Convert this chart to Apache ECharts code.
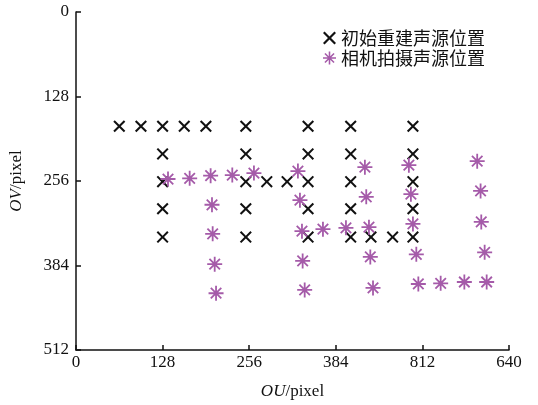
<!DOCTYPE html>
<html>
<head>
<meta charset="utf-8">
<script src="https://cdn.jsdelivr.net/npm/echarts@6/dist/echarts.min.js"></script>
<style>html,body{margin:0;padding:0;background:#fff;}#c{width:538px;height:405px;}</style>
</head>
<body>
<div id="c"></div>
<script>
// Data (pixel coordinates in the image plane)
const seriesNames = ['初始重建声源位置', '相机拍摄声源位置'];
const xTickValues = [0, 128, 256, 384, 512, 640];
const xTickLabels = ['0', '128', '256', '384', '812', '640'];
const yTickLabels = ['0', '128', '256', '384', '512'];

const initialU = [64, 96, 128, 160, 192, 251, 343, 406, 498,
                  128, 251, 343, 406, 498,
                  128, 251, 282, 312, 343, 406, 498,
                  128, 251, 343, 406, 498,
                  128, 251, 343, 406, 436, 468, 498];
const initialV = [173, 173, 173, 173, 173, 173, 173, 173, 173,
                  215, 215, 215, 215, 215,
                  257, 257, 257, 257, 257, 257, 257,
                  298, 298, 298, 298, 298,
                  341, 341, 341, 341, 341, 341, 341];

const cameraU = [136, 168, 199, 231, 263, 328, 201, 331, 202, 334, 205, 335, 207, 338,
                 365, 399, 427, 429, 433, 435, 439, 492, 495, 498, 503, 506,
                 539, 574, 607, 593, 598, 599, 604];
const cameraV = [253, 252, 248, 247, 244, 241, 292, 285, 336, 332, 382, 377, 426, 421,
                 329, 327, 235, 280, 326, 371, 418, 232, 276, 321, 367, 412,
                 411, 409, 409, 226, 271, 318, 364];

const crossPath = 'path://M0,1.2 L1.2,0 L5,3.8 L8.8,0 L10,1.2 L6.2,5 L10,8.8 L8.8,10 L5,6.2 L1.2,10 L0,8.8 L3.8,5 Z';
const starPath = 'path://M0,4.4 L10,4.4 L10,5.6 L0,5.6 Z M4.4,0 L5.6,0 L5.6,10 L4.4,10 Z M1.924,1.076 L8.924,8.076 L8.076,8.924 L1.076,1.924 Z M8.076,1.076 L8.924,1.924 L1.924,8.924 L1.076,8.076 Z';

const purple = '#A55BA9';
const serif = '"Liberation Serif", "DejaVu Serif", serif';

const chart = echarts.init(document.getElementById('c'));
chart.setOption({
  animation: false,
  backgroundColor: '#fff',
  grid: { left: 71, right: 29, top: 12, bottom: 52, containLabel: false },
  legend: {
    orient: 'vertical',
    left: 318,
    top: 24,
    itemWidth: 13,
    itemHeight: 13,
    itemGap: 2,
    textStyle: { fontFamily: '"Noto Sans CJK SC"', fontSize: 18, color: '#111' },
    data: [
      { name: seriesNames[0], icon: crossPath, itemStyle: { color: '#111' } },
      { name: seriesNames[1], icon: starPath, itemStyle: { color: purple } }
    ]
  },
  xAxis: {
    type: 'value',
    position: 'bottom',
    min: 0, max: 640, interval: 128,
    name: '{i|OU}{n|/pixel}',
    nameLocation: 'middle',
    nameGap: 33,
    nameTextStyle: {
      rich: {
        i: { fontFamily: serif, fontStyle: 'italic', fontSize: 17, color: '#111' },
        n: { fontFamily: serif, fontSize: 17, color: '#111' }
      }
    },
    axisLine: { show: true, onZero: false, lineStyle: { color: '#111', width: 1.5 } },
    axisTick: { show: true, inside: true, length: 5, lineStyle: { color: '#111', width: 1.5 } },
    axisLabel: {
      fontFamily: serif, fontSize: 17, color: '#111', margin: 4,
      formatter: function (v) { const i = xTickValues.indexOf(v); return i >= 0 ? xTickLabels[i] : ''; }
    },
    splitLine: { show: false }
  },
  yAxis: {
    type: 'value',
    position: 'left',
    inverse: true,
    min: 0, max: 512, interval: 128,
    name: '{i|OV}{n|/pixel}',
    nameLocation: 'middle',
    nameGap: 51,
    nameRotate: 90,
    nameTextStyle: {
      rich: {
        i: { fontFamily: serif, fontStyle: 'italic', fontSize: 17, color: '#111' },
        n: { fontFamily: serif, fontSize: 17, color: '#111' }
      }
    },
    axisLine: { show: true, onZero: false, lineStyle: { color: '#111', width: 1.5 } },
    axisTick: { show: true, inside: true, length: 5, lineStyle: { color: '#111', width: 1.5 } },
    axisLabel: {
      fontFamily: serif, fontSize: 17, color: '#111', margin: 7,
      formatter: function (v) { return yTickLabels[Math.round(v / 128)] || ''; }
    },
    splitLine: { show: false }
  },
  series: [
    {
      name: seriesNames[0],
      type: 'scatter',
      symbol: crossPath,
      symbolSize: 12,
      itemStyle: { color: '#111', opacity: 1 },
      data: initialU.map((u, i) => [u, initialV[i]]),
      z: 2
    },
    {
      name: seriesNames[1],
      type: 'scatter',
      symbol: starPath,
      symbolSize: 15,
      itemStyle: { color: purple, opacity: 1 },
      data: cameraU.map((u, i) => [u, cameraV[i]]),
      z: 3
    }
  ]
});
</script>
</body>
</html>
